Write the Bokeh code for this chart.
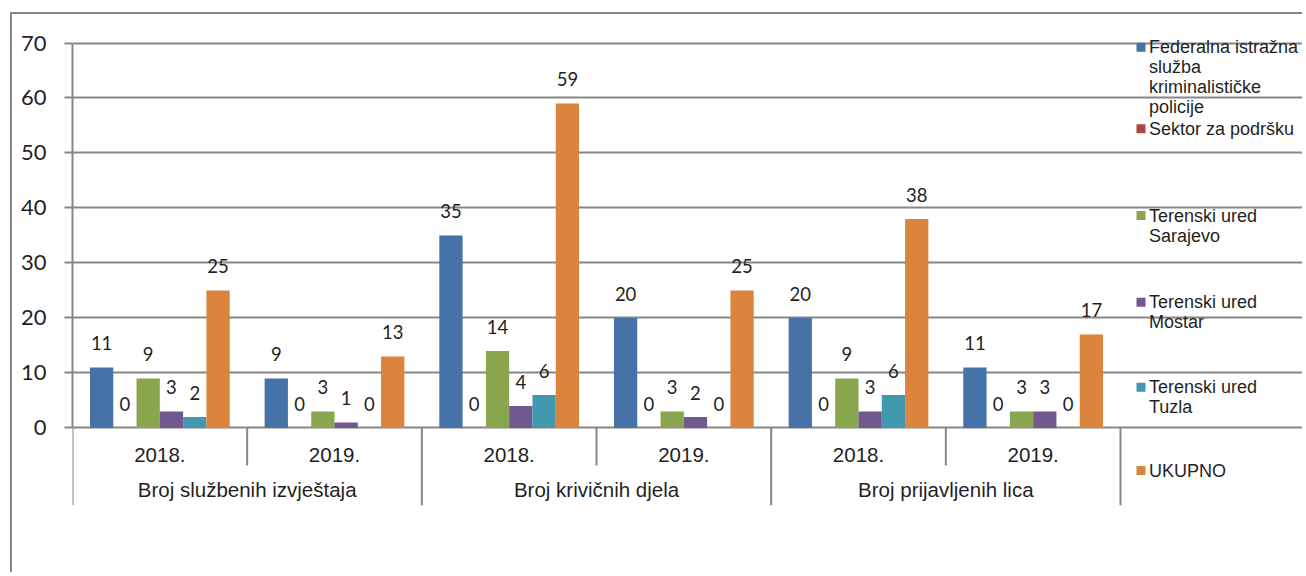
from bokeh.plotting import figure
from bokeh.models import Range1d, FixedTicker, ColumnDataSource
from bokeh.transform import dodge
from bokeh.core.properties import value
from bokeh.embed import file_html
from bokeh.resources import INLINE

# ---- data ----
categories = ["Broj službenih izvještaja", "Broj krivičnih djela", "Broj prijavljenih lica"]
years = ["2018.", "2019."]
series_labels = [
    "Federalna istražna\nslužba\nkriminalističke\npolicije",
    "Sektor za podršku",
    "Terenski ured\nSarajevo",
    "Terenski ured\nMostar",
    "Terenski ured\nTuzla",
    "UKUPNO",
]
federalna = [11, 9, 35, 20, 20, 11]
sektor = [0, 0, 0, 0, 0, 0]
sarajevo = [9, 3, 14, 3, 9, 3]
mostar = [3, 1, 4, 2, 3, 3]
tuzla = [2, 0, 6, 0, 6, 0]
ukupno = [25, 13, 59, 25, 38, 17]
y_ticks = [0, 10, 20, 30, 40, 50, 60, 70]

colors = ["#4572A7", "#AA4643", "#89A54E", "#71588F", "#4198AF", "#DB843D"]
series = [federalna, sektor, sarajevo, mostar, tuzla, ukupno]
keys = ["fed", "sek", "sar", "mos", "tuz", "uku"]

n_groups = len(categories) * len(years)
group_x = [i + 0.5 for i in range(n_groups)]
year_labels = [y for _ in categories for y in years]
cat_x = [2 * i + 1 for i in range(len(categories))]

data = dict(x=group_x)
for k, s in zip(keys, series):
    data[k] = s
    data[k + "_lbl"] = [str(v) for v in s]
src = ColumnDataSource(data)

GRAY = "#878787"
TXT = "#1f1f1f"

# ---- layout (pixels) ----
W, H = 1292, 560
ML, MT, MB = 60, 16, 69
frame_w = W - ML
frame_h = H - MT - MB
px_per_x = 1048 / n_groups          # width of the bar area
px_per_y = 384.9 / 70
top_pad_px = 42.5 - (14 + MT)       # gap between frame top and the 70 gridline
y_top = 70 + top_pad_px / px_per_y
y_bot = y_top - frame_h / px_per_y
x_end = frame_w / px_per_x

p = figure(width=W, height=H, output_backend="svg", toolbar_location=None,
           x_range=Range1d(0, x_end), y_range=Range1d(y_bot, y_top),
           min_border_left=ML, min_border_top=MT, min_border_right=0, min_border_bottom=MB,
           x_axis_location=None)
p.outline_line_color = None
p.background_fill_color = "white"
p.border_fill_color = "white"
p.styles = {"margin-left": "10px", "margin-top": "12px",
            "border-left": "2px solid #878787", "border-top": "2px solid #878787"}

# y axis
p.yaxis.ticker = FixedTicker(ticks=y_ticks)
p.yaxis.bounds = (0, 70)
p.yaxis.axis_line_color = GRAY
p.yaxis.axis_line_width = 2
p.yaxis.major_tick_line_color = GRAY
p.yaxis.major_tick_line_width = 2
p.yaxis.major_tick_out = 8
p.yaxis.major_tick_in = 0
p.yaxis.minor_tick_line_color = None
p.yaxis.major_label_standoff = 18
p.yaxis.major_label_text_font = "Lato"
p.yaxis.major_label_text_font_size = "22px"
p.yaxis.major_label_text_color = TXT
p.xgrid.grid_line_color = None
p.ygrid.ticker = FixedTicker(ticks=y_ticks)
p.ygrid.bounds = (0, n_groups)
p.ygrid.grid_line_color = GRAY
p.ygrid.grid_line_width = 2

# bars + data labels
w = 0.8 / len(series)
for i, (k, c) in enumerate(zip(keys, colors)):
    off = (i - (len(series) - 1) / 2) * w
    p.vbar(x=dodge("x", off, range=p.x_range), top=k, width=w, source=src,
           fill_color=c, line_color=None)
    p.text(x=dodge("x", off, range=p.x_range), y=k, text=k + "_lbl", source=src,
           text_align="center", text_baseline="middle", y_offset=-24.4,
           text_font=value("Lato"), text_font_size="18.5px", text_color=TXT)

# category axis separators and labels
sep_major_x = [2 * i for i in range(len(categories) + 1)]
sep_minor_x = [2 * i + 1 for i in range(len(categories))]
p.segment(x0=sep_major_x, y0=[0] * len(sep_major_x), x1=sep_major_x, y1=[y_bot] * len(sep_major_x),
          line_color=GRAY, line_width=2)
p.segment(x0=sep_minor_x, y0=[0] * len(sep_minor_x), x1=sep_minor_x, y1=[-6.85] * len(sep_minor_x),
          line_color=GRAY, line_width=2)
p.text(x=group_x, y=[-4.84] * n_groups, text=year_labels, text_align="center",
       text_baseline="middle", text_font=value("Liberation Sans"), text_font_size="20.5px",
       text_color=TXT)
p.text(x=cat_x, y=[-11.27] * len(cat_x), text=categories, text_align="center",
       text_baseline="middle", text_font=value("Liberation Sans"), text_font_size="20.5px",
       text_color=TXT)

# legend (right side); offsets in px below the 70 gridline
leg_off_px = [4.2, 85.8, 172.5, 259.2, 344.2, 427.5]
leg_y = [70 - o / px_per_y for o in leg_off_px]
leg_sq_x = [n_groups + 20.5 / px_per_x] * len(series)
leg_tx_x = [n_groups + 28.5 / px_per_x] * len(series)
p.rect(x=leg_sq_x, y=leg_y, width=9, height=9, width_units="screen", height_units="screen",
       fill_color=colors, line_color=None)
p.text(x=leg_tx_x, y=leg_y, text=series_labels, text_align="left", text_baseline="top",
       y_offset=-10, text_line_height=1.0,
       text_font=value("Liberation Sans"), text_font_size="18px", text_color=TXT)

open("out.html", "w").write(file_html(p, INLINE))
